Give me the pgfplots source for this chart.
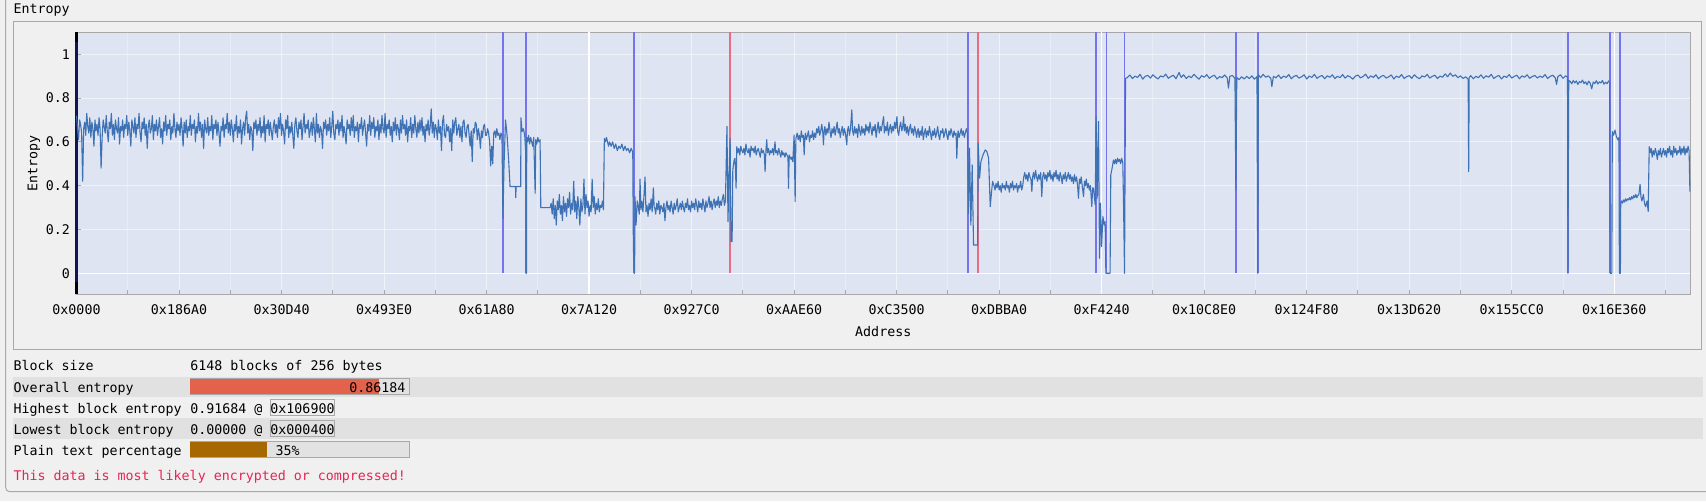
\documentclass[border=0pt]{standalone}
\usepackage{fontspec}
\setmonofont{DejaVu Sans Mono}
\usepackage{pgfplots}
\pgfplotsset{compat=1.18}
\definecolor{bgc}{RGB}{240,240,240}
\definecolor{plotbg}{RGB}{222,228,242}
\definecolor{framec}{RGB}{168,168,168}
\definecolor{rowc}{RGB}{225,225,225}
\definecolor{entc}{RGB}{62,114,180}
\definecolor{hlb}{RGB}{116,116,238}
\definecolor{hlr}{RGB}{232,108,134}
\definecolor{barred}{RGB}{226,98,76}
\definecolor{barbrown}{RGB}{166,104,0}
\definecolor{barbg}{RGB}{226,226,226}
\definecolor{errred}{RGB}{232,36,84}
\definecolor{navy0}{RGB}{20,20,80}
\newcommand{\uifont}{\ttfamily\fontsize{13.3pt}{15pt}\selectfont}
\begin{document}
\begin{tikzpicture}[x=1pt,y=1pt]
\useasboundingbox (0,0) rectangle (1706,501);
\fill[bgc] (0,0) rectangle (1706,501);
\draw[framec, line width=1pt, rounded corners=4pt] (5.7,9.3) rectangle (1720,520);
\node[anchor=base west, inner sep=0pt, font=\uifont] at (13.4,487.5) {Entropy};
\draw[framec, line width=1pt] (13.4,151) rectangle (1701,479.7);
\begin{axis}[
  at={(76.5pt,206.7pt)}, anchor=south west,
  scale only axis, width=1613.5pt, height=262pt,
  xmin=0, xmax=1573.888, ymin=-0.0959, ymax=1.1,
  clip=false,
  axis background/.style={fill=plotbg},
  axis line style={draw=framec, line width=1pt},
  xtick={0,100,...,1500},
  xticklabels={0x0000,0x186A0,0x30D40,0x493E0,0x61A80,0x7A120,0x927C0,0xAAE60,0xC3500,0xDBBA0,0xF4240,0x10C8E0,0x124F80,0x13D620,0x155CC0,0x16E360},
  minor xtick={50,150,...,1550},
  ytick={0,0.2,0.4,0.6,0.8,1},
  yticklabels={0,0.2,0.4,0.6,0.8,1},
  xtick pos=lower, ytick pos=left,
  tick align=inside,
  major tick length=4.3pt, minor tick length=4.3pt,
  tick style={draw=framec, line width=1pt},
  xticklabel style={font=\uifont, anchor=base, yshift=-19.9pt, inner sep=0pt, text=black},
  yticklabel style={font=\uifont, anchor=east, xshift=-6.5pt, inner sep=0pt, text=black},
  xmajorgrids, xminorgrids, ymajorgrids,
  major grid style={draw=white, opacity=0.55, line width=1pt},
  minor grid style={draw=white, opacity=0.3, line width=1pt},
]
\addplot[white, line width=1.2pt, forget plot] coordinates {(0,0)(1573.888,0)};
\addplot[white, line width=1.2pt, forget plot] coordinates {(500,-0.0959)(500,1.1)};
\addplot[white, line width=1.2pt, forget plot] coordinates {(1000,-0.0959)(1000,1.1)};
\addplot[white, line width=1.2pt, forget plot] coordinates {(1500,-0.0959)(1500,1.1)};
\addplot[hlb, line width=1.8pt, ycomb, mark=none, forget plot] coordinates {(415.8,1.1)(438.5,1.1)(544.2,1.1)(869.7,1.1)(994.6,1.1)(1004.8,1.1)(1022.3,1.1)(1130.9,1.1)(1152.2,1.1)(1454.8,1.1)(1496.2,1.1)(1505.3,1.1)};
\addplot[hlr, line width=1.8pt, ycomb, mark=none, forget plot] coordinates {(637.6,1.1)(879.0,1.1)};
\addplot[navy0, line width=2.4pt, forget plot] coordinates {(0,-0.0959)(0,1.1)};
\addplot[black, line width=2.4pt, forget plot] coordinates {(0,1.055)(0,1.1)};
\addplot[black, line width=2.4pt, forget plot] coordinates {(0,-0.0959)(0,-0.038)};
\addplot[entc, line width=1.1pt, line join=round, mark=none] coordinates {
(0,.72)(1,.66)(2,.61)(3,.70)(4,.68)(5,.64)(6,.42)(7,.66)(8,.69)(9,.63)
(10,.73)(11,.67)(12,.64)(13,.71)(14,.62)(15,.69)(16,.66)(17,.58)(18,.70)(19,.65)
(20,.68)(21,.63)(22,.71)(23,.66)(24,.48)(25,.62)(26,.70)(27,.67)(28,.64)(29,.72)
(30,.65)(31,.60)(32,.69)(33,.66)(34,.73)(35,.63)(36,.68)(37,.61)(38,.70)(39,.66)
(40,.64)(41,.71)(42,.59)(43,.67)(44,.65)(45,.70)(46,.62)(47,.68)(48,.66)(49,.72)
(50,.63)(51,.69)(52,.65)(53,.58)(54,.70)(55,.67)(56,.64)(57,.71)(58,.62)(59,.68)
(60,.66)(61,.73)(62,.64)(63,.60)(64,.69)(65,.66)(66,.71)(67,.63)(68,.68)(69,.57)
(70,.67)(71,.70)(72,.64)(73,.66)(74,.72)(75,.61)(76,.68)(77,.65)(78,.70)(79,.63)
(80,.67)(81,.71)(82,.62)(83,.66)(84,.59)(85,.69)(86,.65)(87,.72)(88,.63)(89,.68)
(90,.66)(91,.70)(92,.61)(93,.67)(94,.64)(95,.73)(96,.66)(97,.62)(98,.69)(99,.65)
(100,.68)(101,.63)(102,.71)(103,.66)(104,.58)(105,.69)(106,.64)(107,.70)(108,.62)(109,.67)
(110,.65)(111,.72)(112,.63)(113,.68)(114,.66)(115,.70)(116,.60)(117,.67)(118,.64)(119,.73)
(120,.65)(121,.69)(122,.62)(123,.68)(124,.57)(125,.70)(126,.66)(127,.64)(128,.71)(129,.63)
(130,.67)(131,.65)(132,.72)(133,.61)(134,.68)(135,.66)(136,.70)(137,.63)(138,.69)(139,.64)
(140,.58)(141,.67)(142,.65)(143,.71)(144,.62)(145,.68)(146,.66)(147,.73)(148,.64)(149,.69)
(150,.63)(151,.70)(152,.66)(153,.60)(154,.68)(155,.65)(156,.72)(157,.62)(158,.67)(159,.64)
(160,.70)(161,.59)(162,.66)(163,.69)(164,.63)(165,.71)(166,.74)(167,.64)(168,.68)(169,.61)
(170,.67)(171,.65)(172,.56)(173,.69)(174,.66)(175,.70)(176,.63)(177,.68)(178,.65)(179,.71)
(180,.62)(181,.67)(182,.64)(183,.72)(184,.60)(185,.68)(186,.66)(187,.70)(188,.63)(189,.69)
(190,.65)(191,.61)(192,.67)(193,.70)(194,.64)(195,.68)(196,.62)(197,.71)(198,.66)(199,.73)
(200,.63)(201,.68)(202,.65)(203,.59)(204,.70)(205,.66)(206,.72)(207,.62)(208,.67)(209,.64)
(210,.69)(211,.63)(212,.57)(213,.68)(214,.71)(215,.65)(216,.62)(217,.69)(218,.66)(219,.70)
(220,.61)(221,.67)(222,.73)(223,.64)(224,.68)(225,.66)(226,.70)(227,.62)(228,.65)(229,.69)
(230,.63)(231,.71)(232,.66)(233,.60)(234,.73)(235,.64)(236,.68)(237,.62)(238,.67)(239,.65)
(240,.57)(241,.69)(242,.66)(243,.70)(244,.63)(245,.68)(246,.65)(247,.71)(248,.62)(249,.67)
(250,.74)(251,.64)(252,.61)(253,.68)(254,.66)(255,.70)(256,.63)(257,.69)(258,.65)(259,.72)
(260,.62)(261,.67)(262,.64)(263,.59)(264,.70)(265,.66)(266,.68)(267,.63)(268,.71)(269,.65)
(270,.72)(271,.62)(272,.67)(273,.65)(274,.69)(275,.60)(276,.68)(277,.66)(278,.71)(279,.63)
(280,.67)(281,.70)(282,.64)(283,.58)(284,.68)(285,.65)(286,.72)(287,.63)(288,.69)(289,.66)
(290,.71)(291,.62)(292,.67)(293,.65)(294,.70)(295,.61)(296,.68)(297,.64)(298,.72)(299,.66)
(300,.64)(301,.73)(302,.62)(303,.68)(304,.66)(305,.70)(306,.63)(307,.67)(308,.60)(309,.69)
(310,.65)(311,.71)(312,.63)(313,.68)(314,.66)(315,.61)(316,.70)(317,.64)(318,.72)(319,.66)
(320,.68)(321,.63)(322,.70)(323,.60)(324,.67)(325,.65)(326,.71)(327,.62)(328,.68)(329,.64)
(330,.72)(331,.66)(332,.62)(333,.69)(334,.64)(335,.70)(336,.65)(337,.71)(338,.63)(339,.67)
(340,.60)(341,.68)(342,.65)(343,.70)(344,.63)(345,.67)(346,.75)(347,.64)(348,.69)(349,.62)
(350,.68)(351,.66)(352,.61)(353,.70)(354,.64)(355,.67)(356,.56)(357,.69)(358,.72)(359,.63)
(360,.62)(361,.68)(362,.65)(363,.67)(364,.60)(365,.66)(366,.56)(367,.70)(368,.64)(369,.69)
(370,.71)(371,.63)(372,.66)(373,.68)(374,.62)(375,.67)(376,.60)(377,.69)(378,.70)(379,.64)
(380,.62)(381,.67)(382,.68)(383,.63)(384,.58)(385,.65)(386,.51)(387,.66)(388,.64)(389,.69)
(390,.68)(391,.61)(392,.66)(393,.63)(394,.57)(395,.65)(396,.62)(397,.67)(398,.68)(399,.63)
(400,.63)(401,.66)(402,.64)(403,.60)(404,.49)(405,.58)(406,.50)(407,.64)(408,.65)(409,.62)
(410,.66)(411,.63)(412,.64)(413,.61)(414,.64)
(415,.63)(416,.25)(417,.49)(418.5,.70)(420,.63)(421.5,.52)(422.9,.396)(428.2,.396)(428.5,.345)(428.8,.396)(433.3,.396)(433.5,.71)(434.6,.647)(435.9,.66)(437.2,.63)(438.2,.55)(438.5,0)(438.9,0)(439.2,.62)
(440,.60)(441,.63)(442,.59)(443,.62)(444,.60)(445,.58)(446,.62)(447.4,.365)(448,.61)(449,.59)(450,.62)(451,.60)(452.2,.61)(452.9,.30)(462,.30)
(463,.32)(464,.27)(465,.34)(466,.25)(467,.31)(468,.22)(469,.33)(470,.29)(471,.36)(472,.27)(473,.31)(474,.24)(475,.35)(476,.28)(477,.32)(478,.26)(479,.34)(480,.30)(481,.37)(482,.27)(483,.32)(484,.29)(485,.42)(486,.28)(487,.33)(488,.25)(489,.35)(490,.30)(491,.22)(492,.34)(493,.28)(494,.31)(495,.43)(496,.27)(497,.36)(498,.30)(499,.33)(500,.26)(501,.31)(502,.28)(503,.43)(504,.30)(505,.35)(506,.27)(507,.32)(508,.29)(509,.34)(510,.28)(511,.31)(512,.30)(513,.33)(514,.29)(514.9,.616)
(516,.60)(517,.62)(518,.60)(519,.58)(520,.60)(521.5,.58)(523,.60)(524.5,.57)(526,.59)(527.5,.56)(529,.58)(530.5,.57)(532,.59)(533.5,.56)(535,.58)(536.5,.56)(538,.57)(539.5,.55)(541,.57)(542,.56)(542.6,.55)(543.2,.122)(544,0)(544.4,0)(544.8,.35)(545.8,.22)(547,.33)
(548,.30)(549,.27)(549.7,.43)(550.5,.29)(551.5,.33)(552.5,.28)(553.5,.35)(554.6,.44)(555.5,.28)(556.5,.31)(557.5,.26)(558.5,.32)(559.5,.29)(560.5,.34)(561.5,.28)(562.7,.39)(563.5,.30)
(564,.30)(565,.27)(566,.32)(567,.29)(568,.33)(569,.27)(570,.31)(571,.30)(572,.28)(573,.32)(574,.24)(575,.30)(576,.33)(577,.29)(578,.31)(579,.28)(580,.33)(581,.30)(582,.27)(583,.32)(584,.29)(585,.31)(586,.34)(587,.28)(588,.30)(589,.32)(590,.29)(591,.33)(592,.30)(593,.28)(594,.32)(595,.30)(596,.34)(597,.29)(598,.31)(599,.28)(600,.33)(601,.30)(602,.32)(603,.29)(604,.34)(605,.31)(606,.28)(607,.33)(608,.30)(609,.32)(610,.29)(611,.34)(612,.31)(613,.28)(614,.33)(615,.30)(616,.32)(617,.35)(618,.30)(619,.33)(620,.29)(621,.32)(622,.34)(623,.30)(624,.33)(625,.31)(626,.35)(627,.30)(628,.33)(629,.31)(630,.34)(631,.36)(632,.31)(633,.33)
(634.5,.67)(635.5,.236)(636.5,.45)(637.6,.616)(638.4,.145)(639.5,.145)(640.2,.472)(641.5,.517)(642.4,.525)(643.4,.388)(644.1,.578)
(645,.55)(646,.57)(647,.54)(648,.58)(649,.56)(650,.55)(651,.57)(652,.54)(653,.59)(654,.56)(655,.55)(656,.57)(657,.53)(658,.58)(659,.56)(660,.57)(661,.55)(662,.58)(663,.54)(664,.56)(665,.57)(666,.55)(667,.53)(668,.57)(669,.55)(670,.56)(671,.54)(671.7,.464)(672.5,.56)(673.3,.61)(674,.55)(675,.57)(676,.54)(677,.56)(678,.55)(679,.57)(680,.54)(681.4,.60)(682,.55)(683,.56)(684,.54)(685,.57)(686,.55)(687,.53)(688,.56)(689,.54)(690,.55)(691,.53)(692,.55)(693,.54)(694,.53)(694.5,.388)(695.2,.54)(696,.53)(697,.52)(697.7,.53)(698.7,.51)(700,.632)(701,.327)(701.7,.616)
(702,.62)(703,.64)(704,.61)(705,.63)(706,.60)(707,.65)(708,.62)(709,.63)(709.8,.54)(710.5,.62)(711,.64)(712,.61)(713,.63)(714,.65)(715,.60)(716,.63)(717,.62)(718,.65)(719,.61)(720,.64)(721,.62)(722,.66)
(723,.64)(724,.67)(725,.63)(726,.65)(727,.68)(728,.64)(728.6,.586)(729.3,.65)(730,.67)(731,.63)(732,.66)(733,.64)(734,.69)(735,.65)(736,.62)(737,.66)(738,.64)(739,.67)(740,.63)(741,.66)(742,.69)(743,.64)(744,.66)(745,.62)(746,.65)(747,.67)(748,.63)(749,.66)(750,.64)(751.4,.586)(752,.65)(753,.67)(754,.63)(755,.66)(756.3,.746)(757,.65)(758,.63)(759,.67)(760,.64)(761,.66)(762,.62)(763,.68)(764,.65)(765,.63)(766,.67)(767,.64)
(768,.66)(769,.63)(770,.68)(771,.65)(772,.67)(773,.64)(774,.69)(775,.66)(776,.63)(777,.67)(778,.65)(779,.68)(780,.62)(781,.66)(782,.69)(783,.64)(784,.67)(785,.65)(786,.68)(787.3,.715)(788,.64)(789,.67)(790,.65)(791,.69)(792,.63)(793,.66)(794,.68)(795,.64)(796,.67)(797,.65)(798,.69)(799,.66)(800.3,.715)(801,.65)(802,.63)(803,.67)(804,.69)(805,.65)(806,.67)(806.8,.715)(807.5,.65)(808.5,.68)(809.5,.64)(810.5,.67)(811.5,.63)(812.5,.66)(813.5,.68)(814.5,.64)(815.5,.66)(816.5,.63)(817.5,.67)(818.5,.65)(819.5,.62)
(820,.64)(821,.66)(822,.62)(823,.65)(824,.63)(825,.67)(826,.61)(827,.64)(828,.66)(829,.62)(830,.65)(831,.63)(832,.67)(833,.64)(834,.61)(835,.65)(836,.63)(837,.66)(838,.62)(839,.64)(840,.67)(841,.63)(842,.61)(843,.65)(844,.64)(845,.66)(846,.62)(847,.64)(848,.66)(849,.63)(850,.61)(851,.65)(852,.63)(853,.66)(854,.64)(855,.62)(856,.65)(857,.63)(858,.64)(858.7,.525)(859.5,.63)(860,.65)(861,.62)(862,.64)(863,.66)(864,.63)(865,.65)(866,.62)(867,.64)(868,.66)(869.1,.64)
(870.1,.274)(871.1,.571)(872.4,.22)(873.7,.495)(875,.129)(879,.129)(879.6,.594)(880.9,.434)(882.2,.51)(884.2,.54)(886.4,.563)(888,.556)(889.7,.525)(891.3,.304)(892.6,.373)(893.6,.419)
(895,.40)(896,.38)(897,.41)(898,.39)(899,.42)(900,.38)(901,.40)(902,.37)(903,.41)(904,.39)(905,.40)(906,.38)(907,.42)(908,.39)(909,.40)(910,.37)(911,.41)(912,.39)(913,.42)(914,.38)(915,.40)(916,.39)(917,.41)(918,.37)(919,.40)(920,.39)(921,.42)(922,.38)(923,.40)
(924,.44)(925,.46)(926,.43)(927,.45)(928,.42)(929,.46)(930,.44)(931,.43)(931.9,.373)(932.7,.44)(933.5,.46)(934.5,.43)(935.5,.47)(936.5,.44)(937.5,.42)(938.5,.45)(939.5,.43)(940.5,.46)(941.6,.35)(942.5,.44)(943.5,.46)(944.5,.43)(945.5,.45)(946.5,.42)(947.5,.46)(948.5,.44)(949.5,.47)(950.5,.43)(951.5,.45)(952.5,.42)(953.5,.46)(954.5,.44)(955.5,.47)(956.5,.43)(957.5,.45)(958.5,.42)(959.5,.46)(960.5,.44)(961.5,.41)(962.5,.45)(963.5,.43)(964.5,.46)(965.5,.42)(966.5,.44)(967.5,.46)(968.5,.43)(969.5,.45)(970.5,.42)(971.5,.44)(972.5,.41)(973.5,.45)(974.5,.42)(975.5,.44)(976.5,.40)(977.4,.342)(978.3,.43)(979.2,.41)(980,.44)(981,.40)(982.3,.35)(983.2,.42)(984,.40)(985,.43)(986,.39)(987,.41)(988,.38)(989,.40)(990.4,.304)(991.2,.39)(992,.388)
(993.7,.312)(994.6,.715)(995.6,.342)(996.9,.693)(997.9,.068)(998.9,.32)(999.9,.122)(1001.2,.259)(1002.5,.221)(1003.4,.236)(1004.1,0)(1008.2,0)(1008.9,.449)(1010.2,.48)(1011.5,.517)(1012.5,.50)(1013.5,.52)(1014.5,.50)(1015.5,.525)(1016.5,.51)(1017.5,.52)(1018.5,.50)(1019.5,.525)(1020.6,.505)(1021.3,.327)(1022.3,0)(1023.3,.89)
(1025,.893)(1027.5,.905)(1030,.889)(1032.5,.900)(1035,.894)(1037.5,.908)(1040,.886)(1042.5,.899)(1045,.903)(1047.5,.891)(1050,.906)(1052.5,.895)(1055,.887)(1057.5,.901)(1060,.896)(1062.5,.909)(1065,.890)(1067.5,.898)(1070,.904)(1072.5,.888)(1075.5,.917)(1077.5,.894)(1080,.906)(1082.5,.889)(1085,.900)(1087.5,.893)(1090,.908)(1092.5,.896)(1095,.886)(1097.5,.902)(1100,.895)(1102.5,.907)(1105,.890)(1107.5,.899)(1110,.904)(1112.5,.887)(1115,.898)(1117.5,.893)(1120,.905)(1122.5,.891)(1123.7,.845)(1125,.899)(1127.5,.903)(1130,.890)(1130.9,.38)(1131.8,.894)(1134,.884)(1136.5,.897)(1139,.887)(1141.5,.899)(1144,.889)(1146.5,.901)(1149,.886)(1151.5,.898)(1152.2,0)(1152.9,.906)
(1155,.893)(1157.5,.908)(1160,.895)(1162.5,.901)(1165,.890)(1166,.852)(1167.5,.899)(1170,.892)(1172.5,.905)(1175,.889)(1177.5,.900)(1180,.894)(1182.5,.907)(1185,.888)(1187.5,.899)(1190,.903)(1192.5,.891)(1195,.897)(1197.5,.906)(1200,.887)(1202.5,.900)(1205,.894)(1207.5,.908)(1210,.890)(1212.5,.898)(1215,.903)(1217.5,.888)(1220,.901)(1222.5,.895)(1225,.906)(1227.5,.889)(1230,.899)(1232.5,.893)(1235,.907)(1237.5,.891)(1240,.902)(1242.5,.896)(1245,.886)(1247.5,.900)(1250,.905)(1252.5,.892)(1255,.898)(1257.5,.909)(1260,.890)(1262.5,.901)(1265,.894)(1267.5,.906)(1270,.888)(1272.5,.899)(1275,.903)(1277.5,.891)(1280,.897)(1282.5,.905)(1285,.887)(1287.5,.900)(1290,.894)(1292.5,.907)(1295,.889)(1297.5,.898)(1300,.902)(1302.5,.890)(1305,.906)(1307.5,.895)(1310,.888)(1312.5,.901)(1315,.896)(1317.5,.908)(1320,.891)(1322.5,.899)(1325,.904)(1327.5,.889)(1330,.900)(1332.5,.895)(1335,.910)(1337.5,.897)(1340,.914)(1342.5,.899)(1345,.906)(1347.5,.893)(1350,.901)(1352.5,.889)(1355,.897)(1357.5,.885)(1358,.464)(1358.5,.893)
(1360,.902)(1362.5,.888)(1365,.899)(1367.5,.893)(1370,.906)(1372.5,.890)(1375,.901)(1377.5,.895)(1380,.908)(1382.5,.889)(1385,.898)(1387.5,.903)(1390,.887)(1392.5,.900)(1395,.894)(1397.5,.907)(1400,.891)(1402.5,.899)(1405,.904)(1407.5,.888)(1410,.901)(1412.5,.895)(1415,.906)(1417.5,.890)(1420,.898)(1422.5,.903)(1425,.891)(1427.5,.900)(1430,.894)(1432.5,.907)(1435,.889)(1437.5,.899)(1440,.904)(1442.5,.892)(1443.7,.862)(1445,.898)(1447.5,.906)(1450,.890)(1452.5,.901)(1454.4,.896)(1454.8,0)(1455.6,.88)
(1457,.876)(1458.5,.865)(1460,.880)(1461.5,.869)(1463,.878)(1464.5,.862)(1466,.875)(1467.5,.870)(1469,.882)(1470.5,.866)(1472,.874)(1473.5,.860)(1475,.877)(1476.5,.868)(1478,.842)(1479.5,.873)(1481,.866)(1482.5,.879)(1484,.864)(1485.5,.874)(1487,.869)(1488.5,.880)(1490,.863)(1491.5,.872)(1493,.866)(1494.5,.878)(1495.5,.870)(1496,0)(1497.6,0)(1498.1,.647)(1499.4,.63)(1500.7,.654)(1502,.625)(1503.6,.609)(1504.6,.62)(1505,0)(1506,0)(1506.3,.32)
(1507,.33)(1508,.32)(1509,.335)(1510,.325)(1511,.34)(1512,.33)(1513,.34)(1514,.335)(1515,.345)(1516,.335)(1517,.35)(1518,.34)(1519,.355)(1520,.345)(1521,.36)(1522,.345)(1523,.355)(1524,.36)(1525.2,.406)(1526,.35)(1527,.33)(1528.4,.36)(1529.5,.32)(1530.5,.304)(1532,.33)(1533.1,.282)(1534.1,.578)
(1535,.55)(1536,.57)(1537,.53)(1538,.56)(1539,.54)(1540,.57)(1541,.55)(1542,.52)(1543,.56)(1544,.54)(1545,.57)(1546,.53)(1547,.55)(1548,.57)(1549,.54)(1550,.56)(1551,.53)(1552,.57)(1553,.55)(1554,.58)(1555,.54)(1556,.56)(1557,.53)(1558,.58)(1559,.55)(1560,.57)(1561,.54)(1562,.56)(1563,.55)(1564,.58)(1565,.54)(1566,.57)(1567,.55)(1568,.58)(1569,.54)(1570,.57)(1571,.55)(1572,.58)(1573,.56)(1573.8,.373)
};
\end{axis}
\node[anchor=base, inner sep=0pt, font=\uifont] at (883.25,164.1) {Address};
\node[rotate=90, anchor=base, inner sep=0pt, font=\uifont] at (37.3,337.7) {Entropy};
\fill[rowc] (13.4,104.3) rectangle (1702.7,123.7);
\fill[rowc] (13.4,62.5) rectangle (1702.7,82.7);
\begin{axis}[at={(190.2pt,106.7pt)}, anchor=south west, scale only axis,
  width=219.3pt, height=15.6pt, xmin=0, xmax=1, ymin=0, ymax=1,
  ticks=none, axis line style={draw=framec, line width=1pt},
  axis background/.style={fill=barbg}]
\addplot[fill=barred, draw=none] coordinates {(0,1)(0.86184,1)} \closedcycle;
\end{axis}
\begin{axis}[at={(190.2pt,43.7pt)}, anchor=south west, scale only axis,
  width=219.3pt, height=15.6pt, xmin=0, xmax=1, ymin=0, ymax=1,
  ticks=none, axis line style={draw=framec, line width=1pt},
  axis background/.style={fill=barbg}]
\addplot[fill=barbrown, draw=none] coordinates {(0,1)(0.35,1)} \closedcycle;
\end{axis}
\draw[framec, line width=1pt] (270.6,85) rectangle (334.1,101.7);
\draw[framec, line width=1pt] (270.6,64.3) rectangle (334.1,80.3);
\begin{scope}[every node/.style={anchor=base west, inner sep=0pt, font=\uifont}]
\node at (13.4,130) {Block size};
\node at (190.2,130) {6148 blocks of 256 bytes};
\node at (13.4,108.7) {Overall entropy};
\node[anchor=base east] at (405.5,108.7) {0.86184};
\node at (13.4,87.3) {Highest block entropy};
\node at (190.2,87.3) {0.91684 @ 0x106900};
\node at (13.4,66.3) {Lowest block entropy};
\node at (190.2,66.3) {0.00000 @ 0x000400};
\node at (13.4,45.3) {Plain text percentage};
\node at (275.5,45.3) {35\%};
\node[text=errred] at (13.4,20.7) {This data is most likely encrypted or compressed!};
\end{scope}
\end{tikzpicture}
\end{document}
